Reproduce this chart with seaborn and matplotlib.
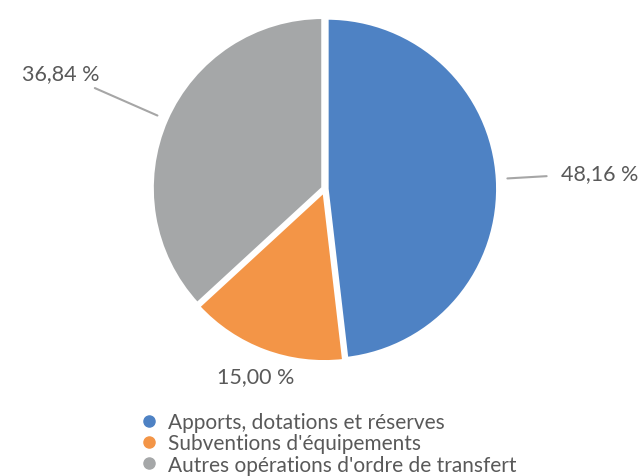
#!/usr/bin/env python3

import numpy as np
from matplotlib import pyplot as plt
from matplotlib.lines import Line2D
import seaborn as sns

sns.set_theme(style="white")
plt.rcParams['font.family'] = ['Lato', 'DejaVu Sans']

categories = ["Apports, dotations et réserves",
              "Subventions d'équipements",
              "Autres opérations d'ordre de transfert"]
shares = [48.16, 15.00, 36.84]
value_labels = ["48,16 %", "15,00 %", "36,84 %"]

palette = sns.color_palette(["#4E82C4", "#F39547", "#A5A7A8"])
text_color = "#595959"


def create_plot():
    fig = plt.figure(figsize=(6.4, 4.77), dpi=100)
    ax = fig.add_axes([0.2406, 0.2432, 0.534, 0.717])

    wedges, _ = ax.pie(shares, colors=palette, startangle=90, counterclock=False,
                       explode=[0.012, 0.012, 0.012],
                       wedgeprops=dict(edgecolor="white", linewidth=2.5))
    ax.set_xlim(-1, 1)
    ax.set_ylim(-1, 1)

    # label radius and leader line (start, end) per slice
    label_r = [1.61, 1.17, 1.69]
    leader = [(1.07, 1.30), None, (1.07, 1.47)]
    for w, lab, r, ld in zip(wedges, value_labels, label_r, leader):
        ang = np.deg2rad((w.theta1 + w.theta2) / 2)
        ax.text(r * np.cos(ang), r * np.sin(ang), lab, ha='center', va='center',
                fontsize=15.5, color=text_color, clip_on=False)
        if ld is not None:
            ax.plot([ld[0] * np.cos(ang), ld[1] * np.cos(ang)],
                    [ld[0] * np.sin(ang), ld[1] * np.sin(ang)],
                    color="#A6A6A6", lw=1.5, clip_on=False)

    handles = [Line2D([], [], ls='', marker='o', markersize=8, color=c) for c in palette]
    fig.legend(handles, categories, loc='upper left', bbox_to_anchor=(0.205, 0.156),
               frameon=False, fontsize=15, labelcolor=text_color, handlelength=0.7,
               handletextpad=0.55, labelspacing=0.06, borderpad=0)

    plt.savefig('out.png', dpi=100)


if __name__ == '__main__':
    create_plot()
